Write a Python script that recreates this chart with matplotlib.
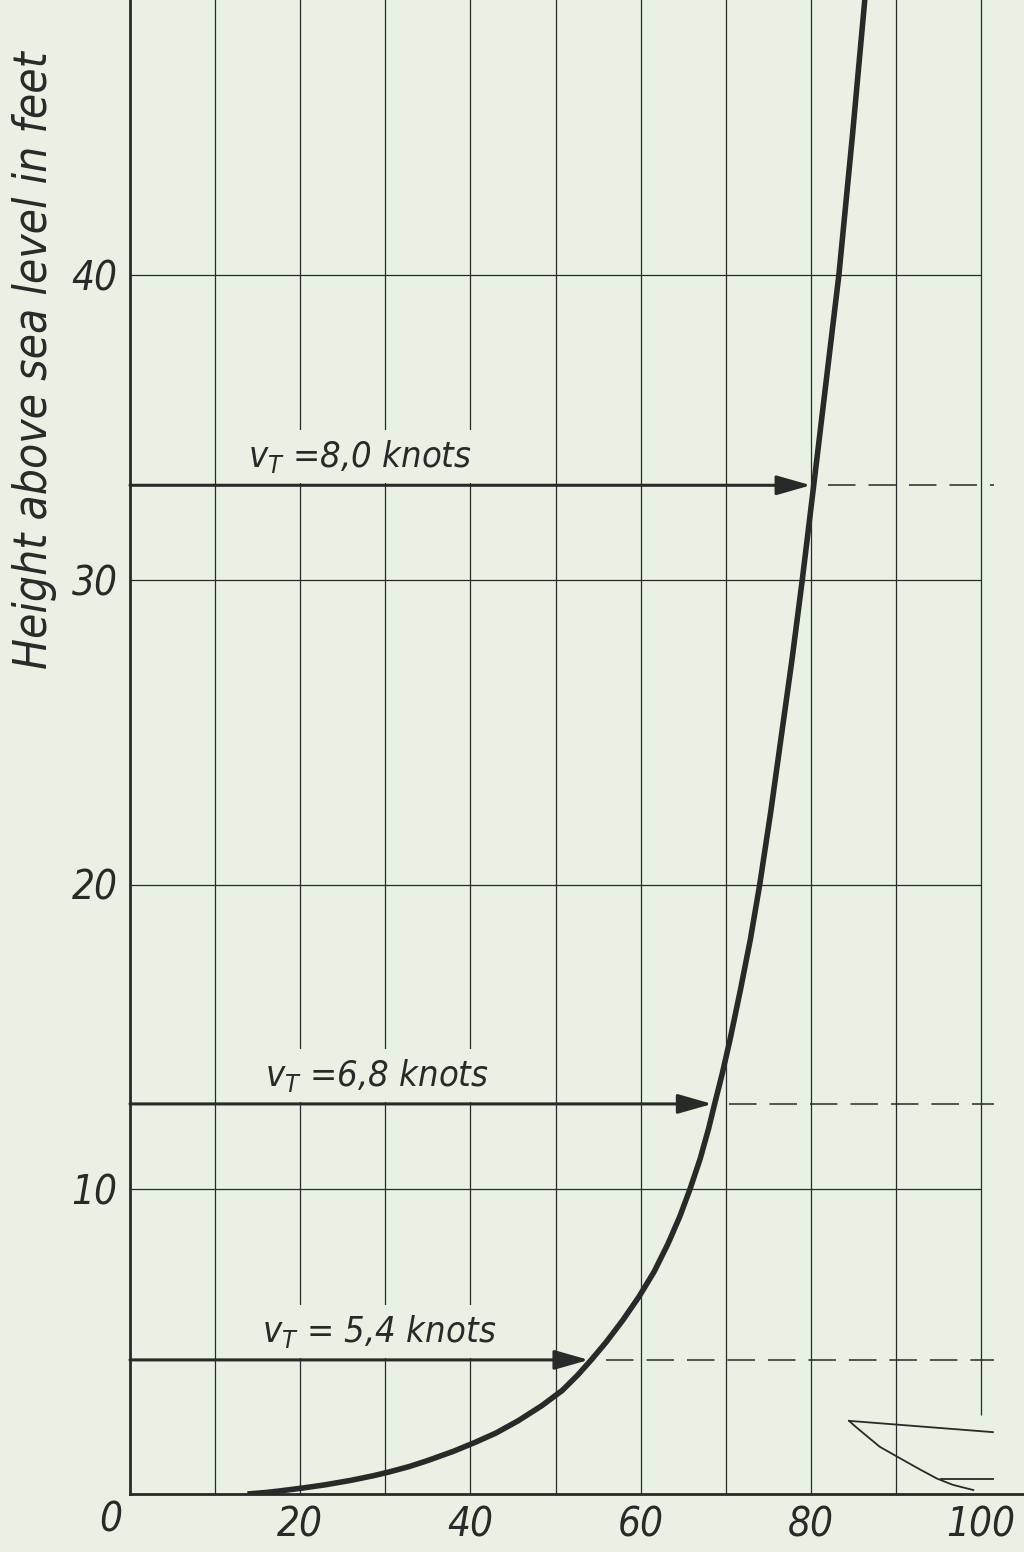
import matplotlib
matplotlib.use('Agg')
import matplotlib.pyplot as plt
from matplotlib import font_manager as fm

# wind gradient curve: apparent/true wind speed in % vs height above sea level (ft)
curve_speed = [13.8, 16.0, 17.6, 20.4, 22.9, 26.0, 28.6, 30.4, 32.8, 35.0, 38.0,
               40.6, 43.0, 45.6, 48.4, 50.8, 52.6, 54.2, 56.0, 57.9, 59.8, 61.6,
               63.2, 64.6, 65.8, 67.0, 68.0, 68.7, 69.6, 70.5, 71.7, 72.9, 74.0,
               75.3, 76.5, 77.8, 79.0, 80.3, 81.8, 83.3, 84.9, 86.4]
curve_height = [0.0, 0.05, 0.1, 0.2, 0.3, 0.45, 0.6, 0.72, 0.9, 1.1, 1.4,
                1.7, 2.0, 2.4, 2.9, 3.4, 3.9, 4.4, 5.0, 5.7, 6.47, 7.3,
                8.2, 9.1, 10.0, 11.0, 12.0, 12.8, 13.8, 14.9, 16.5, 18.2, 20.0,
                22.4, 24.8, 27.4, 30.0, 33.0, 36.5, 40.0, 44.6, 49.2]

# true wind speed markers
vt_labels = ['5,4', '6,8', '8,0']
vt_height = [4.4, 12.8, 33.1]
vt_speed = [53.9, 68.4, 80.0]

# piece of the sail sketch in the lower right corner
sail_top_x = [84.5, 101.4]
sail_top_y = [2.4, 2.03]
sail_curve_x = [84.5, 85.3, 86.2, 88.1, 90.5, 92.8, 94.8, 96.7, 99.1]
sail_curve_y = [2.40, 2.20, 1.99, 1.55, 1.17, 0.81, 0.51, 0.30, 0.13]
sail_foot_x = [95.3, 101.4]
sail_foot_y = [0.49, 0.49]

xticks = [20, 40, 60, 80, 100]
yticks = [10, 20, 30, 40]

bg = '#e8f1e4'
ink = '#262a28'

names = {f.name for f in fm.fontManager.ttflist}
fam = 'Liberation Sans Narrow' if 'Liberation Sans Narrow' in names else 'DejaVu Sans'
plt.rcParams['font.family'] = [fam, 'DejaVu Sans']
plt.rcParams['font.style'] = 'italic'
plt.rcParams['font.stretch'] = 'condensed'
plt.rcParams['mathtext.fontset'] = 'custom'
plt.rcParams['mathtext.it'] = fam + ':italic'
plt.rcParams['mathtext.rm'] = fam + ':italic'

fig = plt.figure(figsize=(10.24, 15.52), dpi=100, facecolor=bg)
ax = fig.add_axes([130 / 1024, 58 / 1552, 894 / 1024, 1494 / 1552])
ax.set_facecolor(bg)
ax.set_xlim(0, 894 / 8.51)
ax.set_ylim(0, 1494 / 30.475)

# grid
ax.vlines(range(10, 100, 10), 0, 50, color=ink, lw=0.9, zorder=1)
ax.vlines(100, 2.6, 50, color=ink, lw=0.9, zorder=1)
ax.hlines(yticks, 0, 100, color=ink, lw=0.9, zorder=1)

for s in ['top', 'right']:
    ax.spines[s].set_visible(False)
for s in ['left', 'bottom']:
    ax.spines[s].set_linewidth(2.0)
    ax.spines[s].set_color(ink)
    ax.spines[s].set_zorder(5)

ax.set_xticks(xticks)
ax.set_yticks(yticks)
ax.tick_params(length=0, labelsize=29, colors=ink)
ax.tick_params(axis='x', pad=8)
ax.tick_params(axis='y', pad=9)
ax.annotate('0', xy=(0, 0), xytext=(-14, -19), textcoords='offset points',
            ha='center', va='center', fontsize=29, color=ink)

ax.text(-95 / 8.51, 37.2, 'Height above sea level in feet', rotation=90,
        ha='center', va='center', fontsize=33, color=ink)

# the curve
ax.plot(curve_speed, curve_height, color=ink, lw=4.0, solid_capstyle='butt',
        solid_joinstyle='round', zorder=4)

label_x = [15.5, 15.9, 13.9]
for lab, h, v, lx in zip(vt_labels, vt_height, vt_speed, label_x):
    sep = ' = ' if lab == '5,4' else ' ='
    ax.annotate(r'$v_T$' + sep + lab + ' knots', xy=(lx, h), xytext=(0, 13),
                textcoords='offset points', ha='left', va='baseline',
                fontsize=26, color=ink, zorder=3,
                bbox=dict(boxstyle='square,pad=0.22', fc=bg, ec='none'))
    ax.annotate('', xy=(v, h), xytext=(0, h),
                arrowprops=dict(arrowstyle='-|>,head_length=1.05,head_width=0.3',
                                mutation_scale=20, lw=2.2, color=ink,
                                shrinkA=0, shrinkB=0), zorder=4)
    ax.plot([v + 2, 101.5], [h, h], color=ink, lw=1.1,
            linestyle=(0, (18, 8.5)), zorder=2)

for sx, sy in [(sail_top_x, sail_top_y), (sail_curve_x, sail_curve_y),
               (sail_foot_x, sail_foot_y)]:
    ax.plot(sx, sy, color=ink, lw=1.3, zorder=3, clip_on=False)

fig.savefig('out.png', dpi=100, facecolor=bg)
